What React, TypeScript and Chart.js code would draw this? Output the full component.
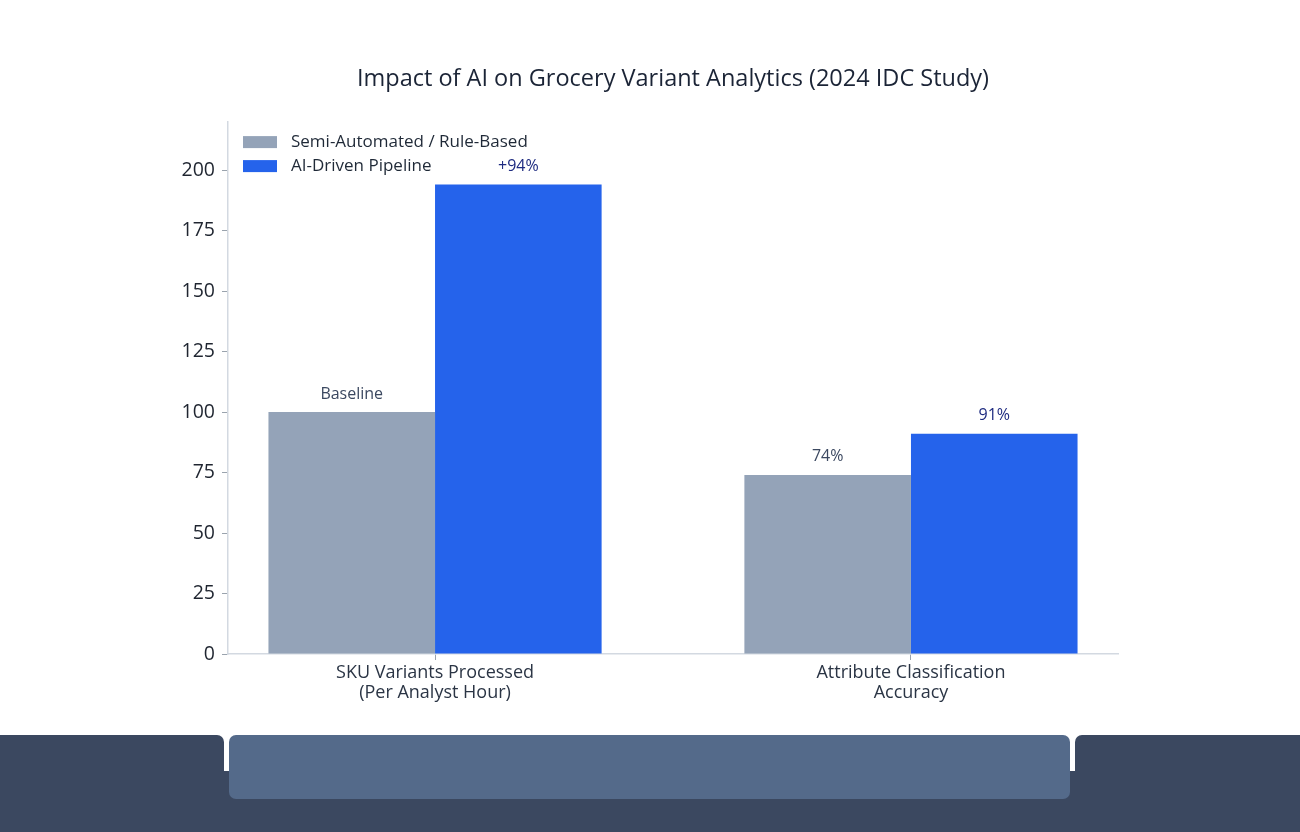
import React, { useEffect, useRef } from "react";
import { Chart, registerables } from "chart.js";

Chart.register(...registerables);

const chartTitle = "Impact of AI on Grocery Variant Analytics (2024 IDC Study)";
const categories = [
  ["SKU Variants Processed", "(Per Analyst Hour)"],
  ["Attribute Classification", "Accuracy"],
];
const seriesNames = ["Semi-Automated / Rule-Based", "AI-Driven Pipeline"];
const baselineValues = [100, 74];
const aiValues = [194, 91];
const baselineLabels = ["Baseline", "74%"];
const aiLabels = ["+94%", "91%"];
const yTickValues = [0, 25, 50, 75, 100, 125, 150, 175, 200];

const FONT = "'Open Sans', Roboto, sans-serif";
const GRAY = "#94a3b8";
const BLUE = "#2563eb";
const AXIS = "#d3d9e1";

const valueLabelPlugin = {
  id: "valueLabels",
  afterDatasetsDraw(chart: any) {
    const ctx = chart.ctx;
    ctx.save();
    ctx.font = `16px ${FONT}`;
    ctx.textAlign = "center";
    ctx.textBaseline = "middle";
    chart.data.datasets.forEach((ds: any, i: number) => {
      const meta = chart.getDatasetMeta(i);
      ctx.fillStyle = ds.labelColor;
      meta.data.forEach((el: any, j: number) => {
        ctx.fillText(ds.valueLabels[j], el.x, el.y - 18);
      });
    });
    ctx.restore();
  },
};

const legendPlugin = {
  id: "insideLegend",
  afterDraw(chart: any) {
    const ctx = chart.ctx;
    const area = chart.chartArea;
    ctx.save();
    ctx.font = `17px ${FONT}`;
    ctx.textAlign = "left";
    ctx.textBaseline = "middle";
    chart.data.datasets.forEach((ds: any, i: number) => {
      const x = area.left + 15;
      const y = area.top + 14.5 + i * 24;
      ctx.fillStyle = ds.backgroundColor;
      ctx.fillRect(x, y, 34, 12);
      ctx.fillStyle = "#1f2937";
      ctx.fillText(ds.label, x + 48, y + 6.5);
    });
    ctx.restore();
  },
};

export default function App() {
  const ref = useRef<HTMLCanvasElement | null>(null);

  useEffect(() => {
    if (!ref.current) return;
    const chart = new Chart(ref.current, {
      type: "bar",
      data: {
        datasets: [
          {
            label: seriesNames[0],
            data: baselineValues.map((v, i) => ({ x: i, y: v })),
            backgroundColor: GRAY,
            borderWidth: 0,
            categoryPercentage: 0.7,
            barPercentage: 1.0,
            valueLabels: baselineLabels,
            labelColor: "#3b4860",
          } as any,
          {
            label: seriesNames[1],
            data: aiValues.map((v, i) => ({ x: i, y: v })),
            backgroundColor: BLUE,
            borderWidth: 0,
            categoryPercentage: 0.7,
            barPercentage: 1.0,
            valueLabels: aiLabels,
            labelColor: "#1e2b80",
          } as any,
        ],
      },
      options: {
        responsive: false,
        animation: false,
        layout: { padding: { left: 128, right: 182, top: 0, bottom: 21 } },
        plugins: {
          legend: { display: false },
          tooltip: { enabled: false },
          title: {
            display: true,
            text: chartTitle,
            fullSize: false,
            color: "#1b2436",
            font: { family: FONT, size: 23.5, weight: "normal" },
            padding: { top: 64.9, bottom: 28.5 },
          },
        },
        scales: {
          x: {
            type: "linear",
            offset: false,
            min: -0.435,
            max: 1.435,
            afterBuildTicks: (scale: any) => {
              scale.ticks = categories.map((_, i) => ({ value: i }));
            },
            afterFit: (scale: any) => {
              scale.height = 60;
            },
            ticks: {
              callback: (v: any) => categories[v as number],
              color: "#2b3545",
              font: { family: FONT, size: 18, lineHeight: 1.1 },
              padding: 3,
              maxRotation: 0,
              autoSkip: false,
            },
            grid: {
              display: true,
              offset: false,
              drawOnChartArea: false,
              drawTicks: true,
              tickLength: 6,
              color: "#9aa3ad",
            },
            border: { display: true, color: AXIS, width: 1.5 },
          },
          y: {
            min: 0,
            max: 220,
            afterBuildTicks: (scale: any) => {
              scale.ticks = yTickValues.map((v) => ({ value: v }));
            },
            afterFit: (scale: any) => {
              scale.width = 100;
            },
            ticks: {
              color: "#1f2530",
              font: { family: FONT, size: 19.5 },
              padding: 7,
            },
            grid: {
              display: true,
              drawOnChartArea: false,
              drawTicks: true,
              tickLength: 6,
              color: "#9aa3ad",
            },
            border: { display: true, color: AXIS, width: 1.5 },
          },
        },
      },
      plugins: [valueLabelPlugin, legendPlugin],
    } as any);
    return () => chart.destroy();
  }, []);

  const dark = "#3b4860";
  return (
    <div style={{ position: "absolute", left: 0, top: 0, width: 1300, height: 832, background: "#ffffff", overflow: "hidden" }}>
      <canvas ref={ref} width={1300} height={735} style={{ position: "absolute", left: 0, top: 0, display: "block" }} />
      <div style={{ position: "absolute", left: 0, top: 771, width: 1300, height: 61, background: dark }} />
      <div style={{ position: "absolute", left: 0, top: 735, width: 224, height: 50, background: dark, borderTopRightRadius: 7 }} />
      <div style={{ position: "absolute", left: 1075, top: 735, width: 225, height: 50, background: dark, borderTopLeftRadius: 7 }} />
      <div style={{ position: "absolute", left: 229, top: 735, width: 841, height: 64, background: "#546a8a", borderRadius: 7 }} />
    </div>
  );
}
